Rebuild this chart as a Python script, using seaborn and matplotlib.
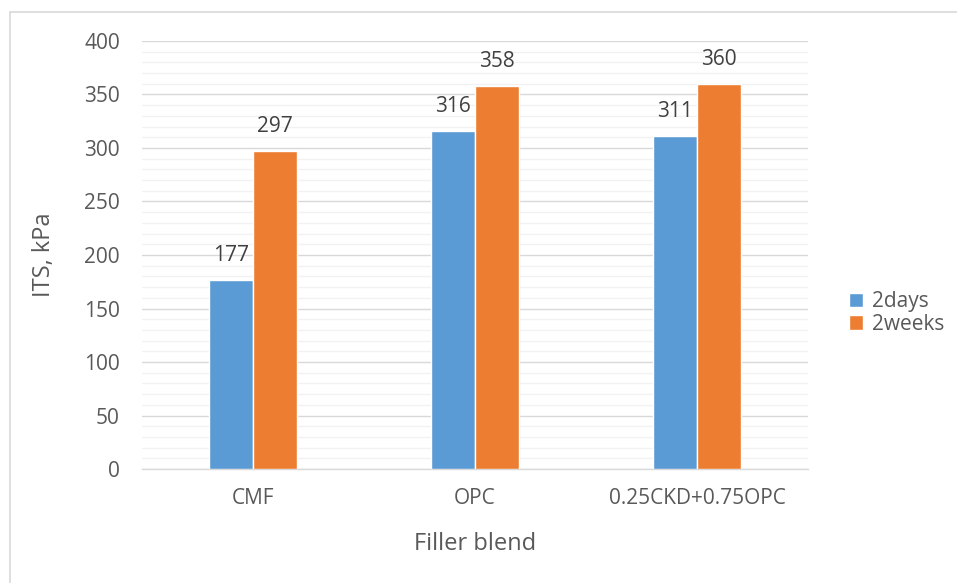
import matplotlib
matplotlib.use("Agg")
import matplotlib.pyplot as plt
from matplotlib.patches import Rectangle
from matplotlib.ticker import MultipleLocator
import seaborn as sns
import pandas as pd

categories = ["CMF", "OPC", "0.25CKD+0.75OPC"]
series_names = ["2days", "2weeks"]
days2 = [177, 316, 311]
weeks2 = [297, 358, 360]
colors = ["#5B9BD5", "#ED7D31"]

df = pd.DataFrame({
    "Filler blend": categories * 2,
    "ITS": days2 + weeks2,
    "Age": [series_names[0]] * 3 + [series_names[1]] * 3,
})

sns.set_theme(style="white")
plt.rcParams["font.family"] = ["Open Sans", "DejaVu Sans"]

fig = plt.figure(figsize=(9.57, 5.83), dpi=100)
ax = fig.add_axes([0.1484, 0.1955, 0.696, 0.7342])

sns.barplot(data=df, x="Filler blend", y="ITS", hue="Age", order=categories,
            hue_order=series_names, palette=colors, width=0.4, gap=0,
            saturation=1, ax=ax, legend=True, zorder=3)

ax.set_ylim(0, 400)
ax.set_xlim(-0.5, 2.5)
ax.yaxis.set_major_locator(MultipleLocator(50))
ax.yaxis.set_minor_locator(MultipleLocator(10))
ax.grid(which="minor", axis="y", color="#F2F2F2", linewidth=1.0, zorder=0)
ax.grid(which="major", axis="y", color="#D9D9D9", linewidth=1.0, zorder=1)
ax.set_axisbelow(True)
for s in ["top", "right", "left"]:
    ax.spines[s].set_visible(False)
ax.spines["bottom"].set_color("#D9D9D9")
ax.spines["bottom"].set_linewidth(1.0)
ax.tick_params(axis="both", which="both", length=0, labelsize=15, colors="#595959")
ax.tick_params(axis="y", pad=16)
ax.tick_params(axis="x", pad=14)

ax.set_ylabel("ITS, kPa", fontsize=17, color="#595959", labelpad=20)
ax.set_xlabel("Filler blend", fontsize=17, color="#595959", labelpad=16)

for cont in ax.containers:
    ax.bar_label(cont, fmt="%d", padding=10, fontsize=15, color="#404040")

leg = ax.legend(loc="center left", bbox_to_anchor=(1.0455, 0.364), frameon=False,
                fontsize=15, handlelength=0.7, handleheight=0.7,
                handletextpad=0.4, labelspacing=0.08, borderpad=0)
for t in leg.get_texts():
    t.set_color("#595959")

# chart frame
fig.patches.append(Rectangle((10 / 957, -0.05), 1.2, 1 - 12 / 583 + 0.05,
                             transform=fig.transFigure, fill=False,
                             edgecolor="#D9D9D9", linewidth=1.2))

fig.savefig("out.png", dpi=100, facecolor="white")
